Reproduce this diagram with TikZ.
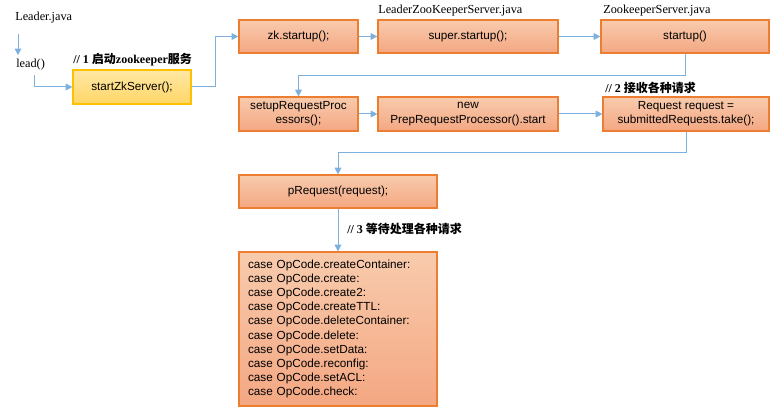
\documentclass[tikz,border=0pt]{standalone}
\usepackage{fontspec}
\setmainfont{Liberation Serif}
\newfontfamily\arial{Liberation Sans}
\newfontfamily\cjk{Noto Sans CJK SC}
\usetikzlibrary{arrows.meta,calc}
\definecolor{BoxTop}{RGB}{248,203,173}
\definecolor{BoxBot}{RGB}{244,167,130}
\definecolor{BoxLine}{RGB}{237,125,49}
\definecolor{YelTop}{RGB}{255,232,165}
\definecolor{YelBot}{RGB}{255,214,102}
\definecolor{YelLine}{RGB}{255,192,0}
\definecolor{LinkClr}{RGB}{124,176,222}

\begin{document}
\begin{tikzpicture}[x=0.75pt,y=-0.75pt,
  callbox/.style={draw=BoxLine,line width=0.9pt,top color=BoxTop,bottom color=BoxBot,
    font=\arial\fontsize{8.8}{10.6}\selectfont,align=center,inner sep=0pt},
  hotbox/.style={callbox,draw=YelLine,top color=YelTop,bottom color=YelBot},
  filelbl/.style={font=\fontsize{9.2}{10}\selectfont,inner sep=0pt,anchor=west},
  notelbl/.style={font=\bfseries\fontsize{9}{10}\selectfont,inner sep=0pt,anchor=west},
  link/.style={draw=LinkClr,line width=0.75pt,-{Triangle[width=5pt,length=5pt]}}]
\useasboundingbox (0,0) rectangle (784,417);

% file names
\node[filelbl] (leader) at (15,18) {Leader.java};
\node[filelbl] (lead) at (16,65) {lead()};
\node[filelbl] (lzkfile) at (378,11) {LeaderZooKeeperServer.java};
\node[filelbl] (zkfile) at (603,11) {ZookeeperServer.java};

% call boxes
\node[hotbox,minimum width=88.5pt,minimum height=25.5pt] (start) at (132,87) {startZkServer();};
\node[callbox,minimum width=89.25pt,minimum height=24.75pt] (zk) at (298.5,36.5) {zk.startup();};
\node[callbox,minimum width=135pt,minimum height=24.75pt] (super) at (468,36.5) {super.startup();};
\node[callbox,minimum width=126pt,minimum height=24.75pt] (startup) at (685,36.5) {startup()};
\node[callbox,minimum width=89.25pt,minimum height=25.5pt] (setup) at (298.5,114) {setupRequestProc\\essors();};
\node[callbox,minimum width=135pt,minimum height=25.5pt] (prep) at (468,114) {new\\PrepRequestProcessor().start};
\node[callbox,minimum width=124.5pt,minimum height=25.5pt] (take) at (686,114) {Request request =\\submittedRequests.take();};
\node[callbox,minimum width=148.5pt,minimum height=24.75pt] (preq) at (338,191.5) {pRequest(request);};
\node[callbox,align=left,text width=135pt,inner xsep=6.75pt,minimum height=115.5pt] (cases) at (338,329)
  {case OpCode.createContainer:\\case OpCode.create:\\case OpCode.create2:\\case OpCode.createTTL:\\
   case OpCode.deleteContainer:\\case OpCode.delete:\\case OpCode.setData:\\case OpCode.reconfig:\\
   case OpCode.setACL:\\case OpCode.check:};

% notes
\node[notelbl] (note1) at (73,60) {// 1 {\cjk 启动}zookeeper{\cjk 服务}};
\node[notelbl] (note2) at (605,88) {// 2 {\cjk 接收各种请求}};
\node[notelbl] (note3) at (347,229) {// 3 {\cjk 等待处理各种请求}};

% links
\draw[link] ($(leader.south west)+(3,10)$) -- ($(lead.north west)+(2,-4)$);
\draw[link] ($(lead.south)+(4,4)$) |- (start.west);
\draw[link] (start.east) -- ++(24,0) |- (zk.west);
\draw[link] (zk.east) -- (super.west);
\draw[link] (super.east) -- (startup.west);
\draw[link] (startup.south) -- ++(0,22) -| (setup.north);
\draw[link] (setup.east) -- (prep.west);
\draw[link] (prep.east) -- (take.west);
\draw[link] (take.south) -- ++(0,21) -| (preq.north);
\draw[link] (preq.south) -- (cases.north);

\end{tikzpicture}
\end{document}
